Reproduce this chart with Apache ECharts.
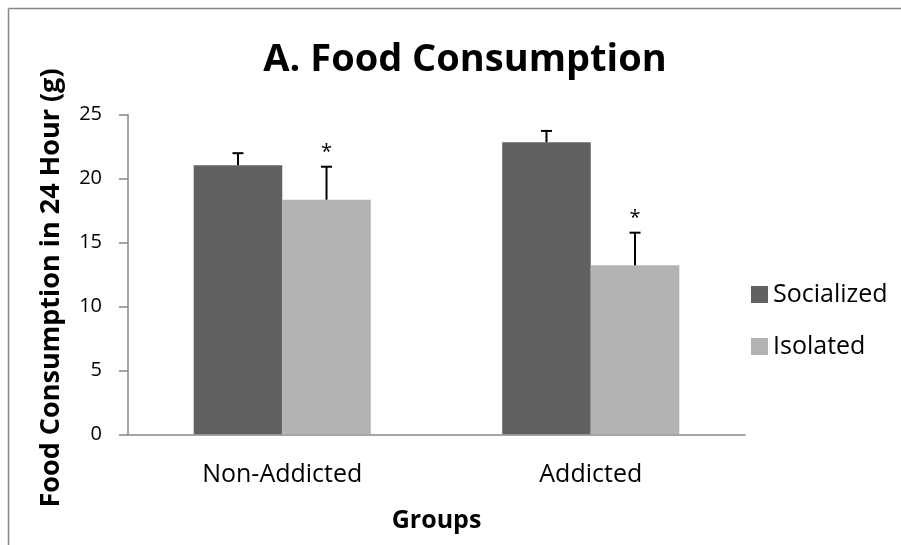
<!DOCTYPE html>
<html><head><meta charset="utf-8">
<script src="https://cdn.jsdelivr.net/npm/echarts@6/dist/echarts.min.js"></script>
<style>html,body{margin:0;padding:0;background:#fff}#c{width:901px;height:545px}</style>
</head><body><div id="c"></div>
<script>
const categories = ['Non-Addicted', 'Addicted'];
const seriesNames = ['Socialized', 'Isolated'];
const socialized = [21.05, 22.85];
const isolated = [18.35, 13.22];
const socializedErr = [0.94, 0.88];
const isolatedErr = [2.58, 2.55];
const socializedMarks = ['', ''];
const isolatedMarks = ['*', '*'];
const yMin = 0, yMax = 25, yStep = 5;

const FONT = '"Open Sans", "Noto Sans", sans-serif';
const GAP = 0.426;
const BAR_FRAC = (1 - GAP) / 2;

function errSeries(name, values, errs, marks, side) {
  return {
    type: 'custom', name: name + ' error', silent: true, z: 5,
    data: values.map((v, i) => [i, v, v + errs[i]]),
    encode: { x: 0, y: [1, 2] },
    renderItem(params, api) {
      const i = api.value(0);
      const base = api.coord([i, api.value(1)]);
      const top = api.coord([i, api.value(2)]);
      const band = api.size([1, 0])[0];
      const bw = band * BAR_FRAC;
      const x = base[0] + side * bw / 2;
      const cap = 5.5;
      const children = [
        { type: 'line', shape: { x1: x, y1: base[1], x2: x, y2: top[1] }, style: { stroke: '#000', lineWidth: 2 } },
        { type: 'line', shape: { x1: x - cap, y1: top[1], x2: x + cap, y2: top[1] }, style: { stroke: '#000', lineWidth: 2 } }
      ];
      const m = marks[params.dataIndex];
      if (m) children.push({ type: 'text', style: { text: m, x: x, y: top[1] - 4, align: 'center', verticalAlign: 'bottom', font: '20px ' + FONT, fill: '#000' } });
      return { type: 'group', children };
    }
  };
}

const chart = echarts.init(document.getElementById('c'), null, { renderer: 'canvas' });
chart.setOption({
  animation: false,
  backgroundColor: '#fff',
  title: {
    text: 'A. Food Consumption', left: 460, top: 36, textAlign: 'center',
    textStyle: { fontFamily: FONT, fontWeight: 'bold', fontSize: 38, color: '#000' }
  },
  graphic: [
    { type: 'line', shape: { x1: 8.5, y1: 8.5, x2: 901, y2: 8.5 }, style: { stroke: '#878787', lineWidth: 1.5 }, silent: true },
    { type: 'line', shape: { x1: 8.5, y1: 8.5, x2: 8.5, y2: 545 }, style: { stroke: '#878787', lineWidth: 1.5 }, silent: true },
    { type: 'text', x: 51, y: 288, rotation: Math.PI / 2,
      style: { text: 'Food Consumption in 24 Hour (g)', align: 'center', verticalAlign: 'middle', font: 'bold 27px ' + FONT, fill: '#000' } }
  ],
  legend: {
    data: seriesNames, orient: 'vertical', left: 746, top: 277,
    itemWidth: 17, itemHeight: 17, itemGap: 27, icon: 'rect',
    textStyle: { fontFamily: FONT, fontSize: 25, color: '#000' }
  },
  grid: { left: 128, right: 156, top: 114.7, bottom: 110.7 },
  xAxis: {
    type: 'category', data: categories,
    name: 'Groups', nameLocation: 'middle', nameGap: 74,
    nameTextStyle: { fontFamily: FONT, fontWeight: 'bold', fontSize: 25, color: '#000' },
    axisLine: { lineStyle: { color: '#878787', width: 1.5 } },
    axisTick: { show: false },
    axisLabel: { margin: 28, fontFamily: FONT, fontSize: 25, color: '#000' }
  },
  yAxis: {
    type: 'value', min: yMin, max: yMax, interval: yStep,
    axisLine: { show: true, lineStyle: { color: '#878787', width: 1.5 } },
    axisTick: { show: true, length: 9, lineStyle: { color: '#878787', width: 1.5 } },
    splitLine: { show: false },
    axisLabel: { margin: 26, fontFamily: FONT, fontSize: 20, color: '#000' }
  },
  series: [
    { type: 'bar', name: seriesNames[0], data: socialized, itemStyle: { color: '#616161' }, barGap: '0%', barCategoryGap: (GAP * 100) + '%' },
    { type: 'bar', name: seriesNames[1], data: isolated, itemStyle: { color: '#b3b3b3' }, barGap: '0%', barCategoryGap: (GAP * 100) + '%' },
    errSeries(seriesNames[0], socialized, socializedErr, socializedMarks, -1),
    errSeries(seriesNames[1], isolated, isolatedErr, isolatedMarks, 1)
  ]
});
</script></body></html>
